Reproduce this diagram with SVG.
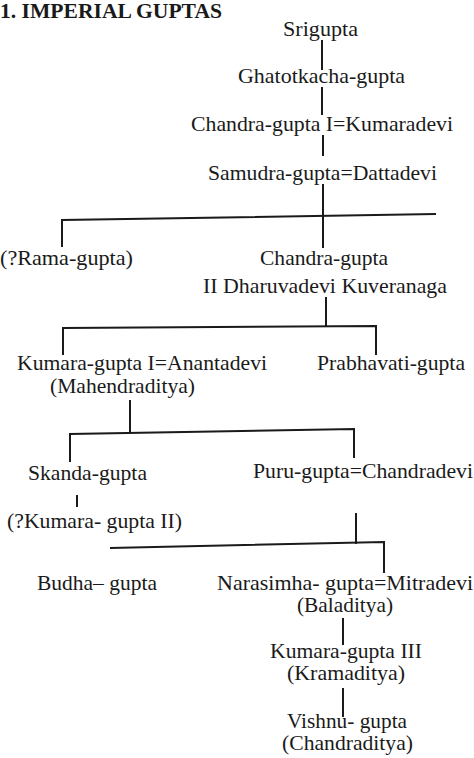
<svg xmlns="http://www.w3.org/2000/svg" width="474" height="758" viewBox="0 0 474 758">
<style>
text{font-family:"Liberation Serif","Times New Roman",serif;font-size:21px;fill:#1a1a1a}
.title{font-weight:bold;font-size:20px}
.c line,.c polyline{stroke:#1a1a1a;stroke-width:2;fill:none}
</style>
<rect width="474" height="758" fill="#fff"/>
<text class="title" x="0" y="18" textLength="222" lengthAdjust="spacingAndGlyphs">1. IMPERIAL GUPTAS</text>
<g class="c" id="connectors">
<line x1="322" y1="40" x2="322" y2="70"/>
<line x1="322" y1="87" x2="322" y2="115"/>
<line x1="323" y1="135" x2="323" y2="156"/>
<line x1="323" y1="184" x2="323" y2="248"/>
<polyline points="62,247 62,220 436,214"/>
<line x1="326" y1="297" x2="326" y2="327"/>
<polyline points="63,355 63,328 376,326 376,355"/>
<line x1="130" y1="400" x2="130" y2="432"/>
<polyline points="70,462 70,434 354,429 354,458"/>
<line x1="77" y1="495" x2="77" y2="507"/>
<line x1="356" y1="513" x2="356" y2="544"/>
<polyline points="110,548 384,542 384,573"/>
<line x1="343" y1="618" x2="343" y2="645"/>
<line x1="343" y1="688" x2="343" y2="717"/>
</g>
<g id="srigupta"><text x="283" y="36" textLength="75" lengthAdjust="spacingAndGlyphs">Srigupta</text></g>
<g id="ghatotkacha"><text x="238" y="83" textLength="167" lengthAdjust="spacingAndGlyphs">Ghatotkacha-gupta</text></g>
<g id="chandragupta1"><text x="191" y="131" textLength="262" lengthAdjust="spacingAndGlyphs">Chandra-gupta I=Kumaradevi</text></g>
<g id="samudragupta"><text x="208" y="180" textLength="229" lengthAdjust="spacingAndGlyphs">Samudra-gupta=Dattadevi</text></g>
<g id="ramagupta"><text x="0" y="265" textLength="133" lengthAdjust="spacingAndGlyphs">(?Rama-gupta)</text></g>
<g id="chandragupta2"><text x="260" y="265" textLength="128" lengthAdjust="spacingAndGlyphs">Chandra-gupta</text><text x="203" y="293" textLength="244" lengthAdjust="spacingAndGlyphs">II Dharuvadevi Kuveranaga</text></g>
<g id="kumaragupta1"><text x="17" y="370" textLength="250" lengthAdjust="spacingAndGlyphs">Kumara-gupta I=Anantadevi</text><text x="50" y="393" textLength="145" lengthAdjust="spacingAndGlyphs">(Mahendraditya)</text></g>
<g id="prabhavati"><text x="317" y="370" textLength="148" lengthAdjust="spacingAndGlyphs">Prabhavati-gupta</text></g>
<g id="skandagupta"><text x="28" y="480" textLength="119" lengthAdjust="spacingAndGlyphs">Skanda-gupta</text></g>
<g id="kumaragupta2"><text x="7" y="528" textLength="175" lengthAdjust="spacingAndGlyphs">(?Kumara- gupta II)</text></g>
<g id="purugupta"><text x="253" y="478" textLength="220" lengthAdjust="spacingAndGlyphs">Puru-gupta=Chandradevi</text></g>
<g id="budhagupta"><text x="37" y="590" textLength="120" lengthAdjust="spacingAndGlyphs">Budha– gupta</text></g>
<g id="narasimhagupta"><text x="217" y="590" textLength="256" lengthAdjust="spacingAndGlyphs">Narasimha- gupta=Mitradevi</text><text x="297" y="612" textLength="96" lengthAdjust="spacingAndGlyphs">(Baladitya)</text></g>
<g id="kumaragupta3"><text x="270" y="658" textLength="152" lengthAdjust="spacingAndGlyphs">Kumara-gupta III</text><text x="287" y="680" textLength="118" lengthAdjust="spacingAndGlyphs">(Kramaditya)</text></g>
<g id="vishnugupta"><text x="287" y="728" textLength="120" lengthAdjust="spacingAndGlyphs">Vishnu- gupta</text><text x="282" y="750" textLength="131" lengthAdjust="spacingAndGlyphs">(Chandraditya)</text></g>
</svg>
